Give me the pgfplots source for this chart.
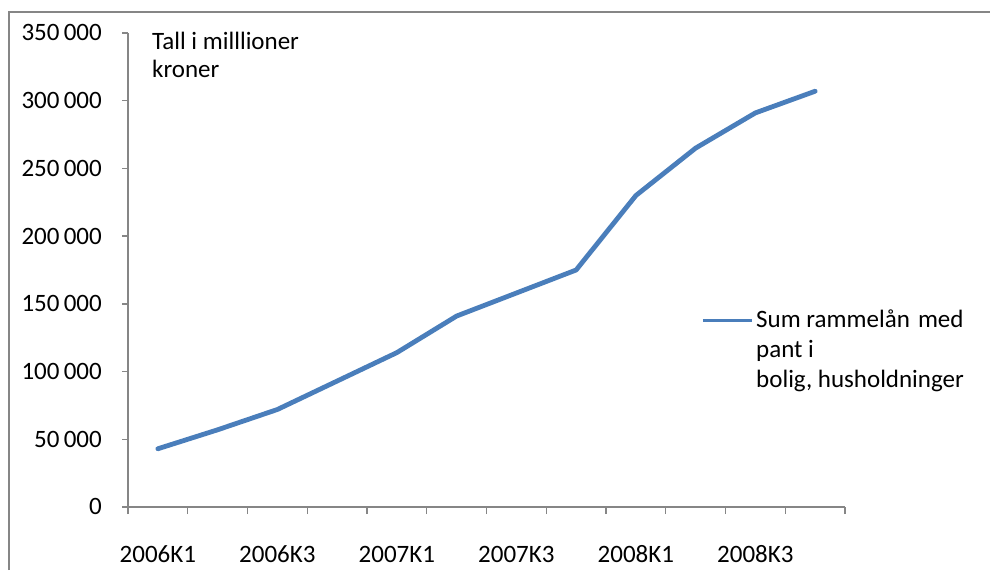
\documentclass[border=0pt]{standalone}
\usepackage{fontspec}
\setmainfont{Carlito}
\usepackage{pgfplots}
\pgfplotsset{compat=1.18}

\definecolor{serieblue}{RGB}{74,126,187}
\definecolor{axisgray}{RGB}{134,134,134}

\begin{document}
\begin{tikzpicture}[font=\fontsize{25}{28}\selectfont]
\useasboundingbox (0,0) rectangle (990pt,570pt);
% chart frame
\draw[axisgray, line width=1.2pt] (9pt,0pt) -- (9pt,558pt) -- (990pt,558pt);
\begin{axis}[
  at={(128pt,63pt)}, anchor=south west,
  scale only axis, width=717pt, height=474pt,
  xmin=-0.5, xmax=11.5, ymin=0, ymax=350000,
  axis x line*=bottom, axis y line*=left,
  axis line style={axisgray, line width=1.3pt},
  tick style={axisgray, line width=1.3pt},
  tick align=outside,
  xtick={0,2,4,6,8,10},
  xticklabels={2006K1,2006K3,2007K1,2007K3,2008K1,2008K3},
  major x tick style={draw=none},
  minor xtick={-0.5,0.5,...,11.5},
  minor tick length=7pt,
  ytick={0,50000,100000,150000,200000,250000,300000,350000},
  yticklabels={0,50\hspace{0.17em}000,100\hspace{0.17em}000,150\hspace{0.17em}000,200\hspace{0.17em}000,250\hspace{0.17em}000,300\hspace{0.17em}000,350\hspace{0.17em}000},
  major tick length=6pt,
  scaled y ticks=false,
  yticklabel style={anchor=base east, inner sep=0pt, xshift=-20pt, yshift=-7.9pt},
  xticklabel style={anchor=base, inner sep=0pt, yshift=-49.7pt},
  legend style={draw=none, fill=none, at={(0.7995,0.4156)}, anchor=north west,
    inner sep=0pt, outer sep=0pt,
    nodes={inner sep=0pt, align=left},
    /tikz/every odd column/.append style={column sep=2.5pt}},
  legend cell align=left,
  % the key line sits level with the first line of the entry text
  legend image code/.code={
    \path[draw=none] (0pt,-30pt) -- (0pt,30pt);
    \draw[#1, line width=3.5pt, line cap=butt] (0pt,29pt) -- (49pt,29pt);},
  clip=false,
]
\addplot[serieblue, line width=4.8pt, line join=round, line cap=round] coordinates {
  (0,43000) (1,57000) (2,72000) (3,93000) (4,114000) (5,141000)
  (6,158000) (7,175000) (8,230000) (9,265000) (10,291000) (11,307000)
};
\addlegendentry{Sum rammelån\hspace{0.1em} med\\[2pt]pant i\\[2pt]bolig, husholdninger}
\node[anchor=base west, align=left, inner sep=0pt] at (rel axis cs:0.0335,0.907) {Tall i milllioner\\kroner};
\end{axis}
\end{tikzpicture}
\end{document}
